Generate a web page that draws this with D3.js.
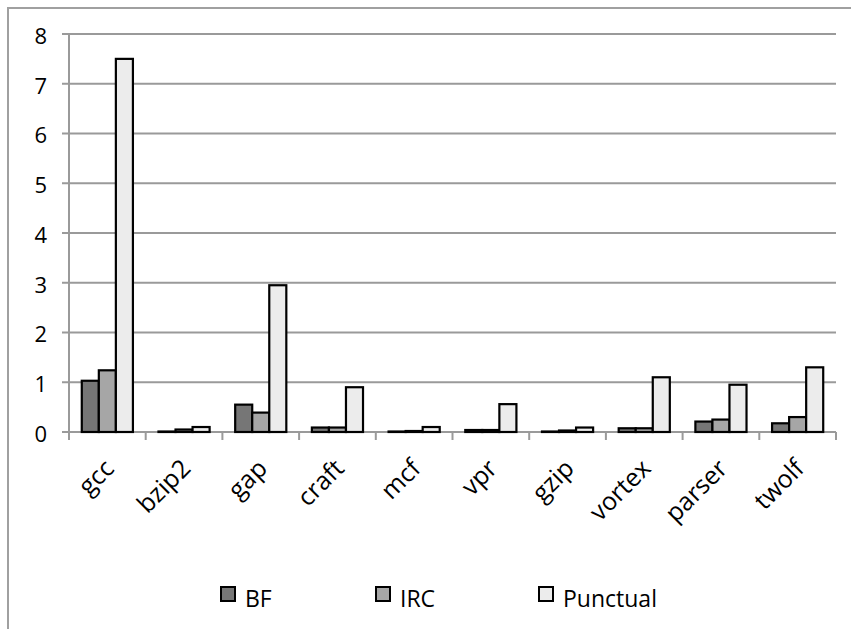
<!DOCTYPE html>
<html>
<head>
<meta charset="utf-8">
<script src="https://cdn.jsdelivr.net/npm/d3@7/dist/d3.min.js"></script>
<style>
  html, body { margin: 0; padding: 0; background: #fff; }
  svg { display: block; }
  text { font-family: "Open Sans", "Noto Sans", sans-serif; fill: #000; }
</style>
</head>
<body>
<svg id="chart" width="851" height="629"></svg>
<script>
const categories = ["gcc", "bzip2", "gap", "craft", "mcf", "vpr", "gzip", "vortex", "parser", "twolf"];
const seriesNames = ["BF", "IRC", "Punctual"];
const bfValues       = [1.03, 0.01, 0.55, 0.09, 0.01, 0.04, 0.01, 0.075, 0.21, 0.175];
const ircValues      = [1.24, 0.05, 0.39, 0.09, 0.02, 0.04, 0.03, 0.075, 0.25, 0.30];
const punctualValues = [7.50, 0.10, 2.95, 0.90, 0.10, 0.56, 0.09, 1.10, 0.95, 1.30];
const yTicks = [0, 1, 2, 3, 4, 5, 6, 7, 8];
const colors = ["#767676", "#a6a6a6", "#ececec"];

(function () {
const seriesValues = [bfValues, ircValues, punctualValues];
const svg = d3.select("#chart");

const pLeft = 69, pRight = 836, pTop = 34, pBottom = 432;
const x0 = d3.scaleBand().domain(categories).range([pLeft, pRight]).padding(0);
const x1 = d3.scaleBand().domain(seriesNames).range([0, x0.bandwidth()]).paddingInner(0).paddingOuter(0.75);
const y = d3.scaleLinear().domain([0, 8]).range([pBottom, pTop]);
const color = d3.scaleOrdinal().domain(seriesNames).range(colors);

// outer frame
svg.append("rect").attr("x", 8).attr("y", 8).attr("width", 900).attr("height", 800)
  .attr("fill", "none").attr("stroke", "#a0a0a0").attr("stroke-width", 2);

// gridlines
svg.append("g").selectAll("line").data(yTicks).join("line")
  .attr("x1", pLeft - 7).attr("x2", pRight)
  .attr("y1", d => y(d)).attr("y2", d => y(d))
  .attr("stroke", "#9a9a9a").attr("stroke-width", 2);

// y axis line
svg.append("line").attr("x1", pLeft).attr("x2", pLeft).attr("y1", pTop).attr("y2", pBottom + 8)
  .attr("stroke", "#9a9a9a").attr("stroke-width", 2);

// category ticks
const tickPos = categories.map(c => x0(c)).concat([pRight]);
svg.append("g").selectAll("line").data(tickPos).join("line")
  .attr("x1", d => d).attr("x2", d => d).attr("y1", pBottom).attr("y2", pBottom + 8)
  .attr("stroke", "#9a9a9a").attr("stroke-width", 2);

// y labels
svg.append("g").selectAll("text").data(yTicks).join("text")
  .attr("x", 47).attr("y", d => y(d) + 4)
  .attr("text-anchor", "end").attr("dominant-baseline", "middle")
  .style("font-size", "22px").text(d => d);

// bars
const rows = categories.map((c, i) => ({ cat: c, vals: seriesNames.map((s, j) => ({ s, v: seriesValues[j][i] })) }));
const groups = svg.append("g").selectAll("g").data(rows).join("g")
  .attr("transform", d => `translate(${x0(d.cat)},0)`);
groups.selectAll("rect").data(d => d.vals).join("rect")
  .attr("x", d => x1(d.s)).attr("width", x1.bandwidth())
  .attr("y", d => y(d.v)).attr("height", d => y(0) - y(d.v))
  .attr("fill", d => color(d.s)).attr("stroke", "#000").attr("stroke-width", 2.2);

// x labels
svg.append("g").selectAll("text").data(categories).join("text")
  .attr("transform", d => `translate(${x0(d) + x0.bandwidth() / 2 + 8},${470}) rotate(-45)`)
  .attr("text-anchor", "end")
  .style("font-size", "25px").text(d => d);

// legend
const legendX = [221, 376, 539];
const legend = svg.append("g").selectAll("g").data(seriesNames).join("g")
  .attr("transform", (d, i) => `translate(${legendX[i]},587)`);
legend.append("rect").attr("x", 0).attr("y", 0).attr("width", 14).attr("height", 14)
  .attr("fill", d => color(d)).attr("stroke", "#000").attr("stroke-width", 2);
legend.append("text").attr("x", 24).attr("y", 20)
  .style("font-size", "23px").text(d => d);
})();
</script>
</body>
</html>
